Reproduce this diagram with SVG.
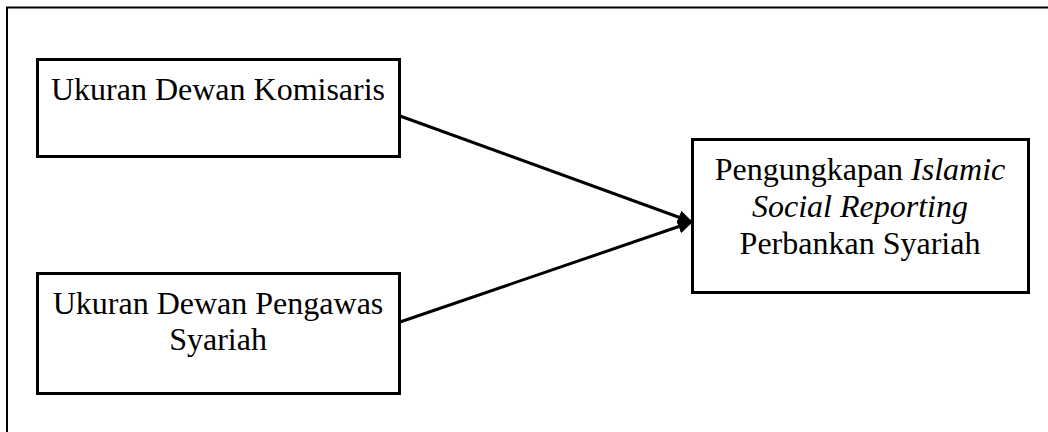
<svg xmlns="http://www.w3.org/2000/svg" width="1048" height="432" viewBox="0 0 1048 432">
<style>
.box{fill:#fff;stroke:#000;stroke-width:3}
.t{font-family:"Liberation Serif","Times New Roman",serif;font-size:32px;fill:#000;text-anchor:middle}
.conn{stroke:#000;stroke-width:3;fill:none}
.frame{stroke:#000;stroke-width:2;fill:none}
</style>
<defs>
<marker id="ah" markerWidth="16" markerHeight="16" refX="14" refY="8" orient="auto" markerUnits="userSpaceOnUse">
<path d="M0,1 L15,8 L0,15 z" fill="#000"/>
</marker>
</defs>
<rect width="1048" height="432" fill="#fff"/>
<path class="frame" d="M7,432 L7,7.5 L1048,7.5"/>
<g id="n1">
<rect class="box" x="37.5" y="59.5" width="362" height="97"/>
<text class="t" x="218" y="100">Ukuran Dewan Komisaris</text>
</g>
<g id="n2">
<rect class="box" x="37.5" y="273.5" width="362" height="120"/>
<text class="t" x="218" y="314">Ukuran Dewan Pengawas</text>
<text class="t" x="218" y="350">Syariah</text>
</g>
<g id="n3">
<rect class="box" x="692.5" y="139.5" width="336" height="153"/>
<text class="t" x="860" y="180">Pengungkapan <tspan font-style="italic">Islamic</tspan></text>
<text class="t" x="860" y="217" font-style="italic">Social Reporting</text>
<text class="t" x="860" y="254">Perbankan Syariah</text>
</g>
<g id="connectors">
<line class="conn" x1="400" y1="116" x2="692" y2="222" marker-end="url(#ah)"/>
<line class="conn" x1="400" y1="322" x2="692" y2="222" marker-end="url(#ah)"/>
</g>
</svg>
